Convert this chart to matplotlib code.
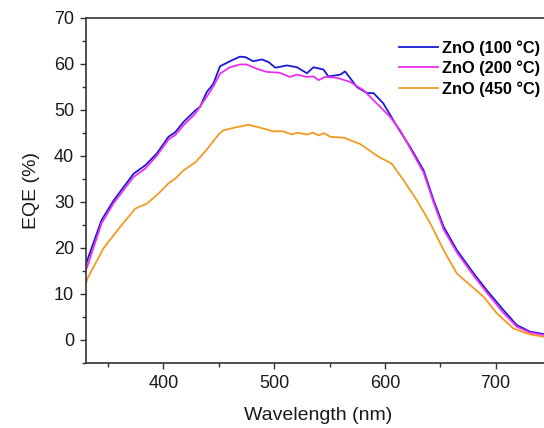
import matplotlib
matplotlib.use("Agg")
import matplotlib.pyplot as plt
from matplotlib.ticker import MultipleLocator

plt.rcParams["font.family"] = ["Liberation Sans", "DejaVu Sans"]

# EQE spectra
wl_100 = [330, 331, 344, 355, 373, 383.5, 394, 404.5, 410.6, 418, 428.6, 433, 439, 445,
          451, 460, 469, 474, 481, 489, 495, 501, 511.5, 520.5, 529.5, 535.5, 544.5,
          549, 559.6, 564, 574.7, 583.7, 589.7, 598.7, 610.8, 623, 635, 644, 653, 665,
          680, 692, 707, 719, 731, 743, 750]
eqe_100 = [16.4, 17.2, 26.0, 30.3, 36.1, 37.9, 40.5, 44.1, 45.1, 47.3, 49.8, 50.6, 53.8, 55.6,
           59.4, 60.5, 61.5, 61.4, 60.5, 60.9, 60.3, 59.1, 59.6, 59.2, 57.9, 59.2, 58.7,
           57.2, 57.6, 58.3, 54.9, 53.6, 53.6, 51.3, 46.4, 41.8, 36.8, 30.3, 24.6, 19.5,
           14.5, 10.8, 6.5, 3.25, 1.8, 1.3, 1.1]

wl_200 = [330, 331, 344, 355, 373, 383.5, 394, 404.5, 410.6, 418, 428.6, 439, 445, 451,
          460, 469, 475, 484, 493, 505, 514, 520.5, 529.5, 535.5, 540, 546, 557, 568.7,
          580.7, 592.8, 604.8, 613.8, 622.8, 635, 644, 653, 665, 680, 692, 707, 719,
          731, 743, 750]
eqe_200 = [15.3, 15.8, 25.3, 29.7, 35.4, 37.2, 40.0, 43.5, 44.5, 46.6, 49.1, 52.8, 55.0, 57.8,
           59.2, 59.8, 59.8, 58.9, 58.2, 58.0, 57.1, 57.6, 57.1, 57.2, 56.4, 57.1, 56.9,
           56.0, 54.2, 51.3, 48.4, 45.5, 41.6, 36.3, 29.8, 24.0, 19.0, 14.0, 10.3, 5.9,
           2.9, 1.6, 1.1, 0.9]

wl_450 = [330, 331, 345.8, 361, 374.4, 385, 395.5, 404.5, 410.6, 418, 429, 439, 449.7, 454,
          466, 476.8, 487, 499, 508, 516, 520.5, 529.5, 535, 540, 545, 550.6, 563, 578,
          594, 606, 616.8, 628.9, 641, 653, 665, 677, 689, 701, 716, 731, 743, 750]
eqe_450 = [12.3, 13.2, 19.9, 24.6, 28.5, 29.6, 31.8, 34.0, 35.0, 36.8, 38.6, 41.3, 44.6, 45.5,
           46.2, 46.7, 46.1, 45.3, 45.3, 44.6, 45.0, 44.6, 45.0, 44.4, 44.9, 44.1, 43.9,
           42.5, 39.8, 38.3, 34.7, 30.3, 25.3, 19.5, 14.4, 11.9, 9.4, 5.8, 2.5, 1.2, 0.7, 0.5]

labels = ["ZnO (100 \u00b0C)", "ZnO (200 \u00b0C)", "ZnO (450 \u00b0C)"]
colors = ["#1a1ad6", "#ec2fec", "#f39a22"]

fig = plt.figure(figsize=(5.44, 4.28), dpi=100)
ax = fig.add_axes([86 / 544, 65 / 428, 465 / 544, 345.5 / 428])

for wl, eqe, lab, c in zip([wl_100, wl_200, wl_450], [eqe_100, eqe_200, eqe_450],
                           labels, colors):
    ax.plot(wl, eqe, color=c, lw=1.3, label=lab)

ax.set_xlim(330, 750)
ax.set_ylim(-5, 70)
ax.xaxis.set_major_locator(MultipleLocator(100))
ax.xaxis.set_minor_locator(MultipleLocator(50))
ax.yaxis.set_major_locator(MultipleLocator(10))
ax.yaxis.set_minor_locator(MultipleLocator(5))
ax.tick_params(which="both", direction="out", top=False, right=False,
               labelsize=13, color="#333333", width=1.0, labelcolor="#1a1a1a")
ax.tick_params(which="major", length=4.5, pad=4)
ax.tick_params(which="minor", length=3)
for s in ax.spines.values():
    s.set_linewidth(1.2)
    s.set_color("#333333")

ax.set_xlabel("Wavelength (nm)", fontsize=14, labelpad=11, color="#1a1a1a")
ax.set_ylabel("EQE (%)", fontsize=14, labelpad=10, color="#1a1a1a")

leg = ax.legend(loc="upper left", bbox_to_anchor=(399 / 544, 1 - 40 / 428),
                bbox_transform=fig.transFigure, frameon=False,
                prop={"weight": "bold", "size": 11.8}, handlelength=2.4,
                handletextpad=0.25, labelspacing=0.3, borderaxespad=0, borderpad=0)

fig.savefig("out.png", dpi=100)
